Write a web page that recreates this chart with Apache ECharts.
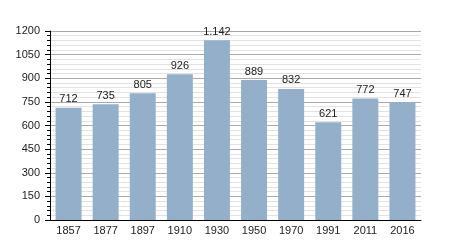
<!DOCTYPE html>
<html><head><meta charset="utf-8">
<script src="https://cdn.jsdelivr.net/npm/echarts@6/dist/echarts.min.js"></script>
<style>html,body{margin:0;padding:0;background:#fff}#c{width:450px;height:250px}</style>
</head><body><div id="c"></div>
<script>
const years = ['1857','1877','1897','1910','1930','1950','1970','1991','2011','2016'];
const population = [712,735,805,926,1142,889,832,621,772,747];
const yTicks = [0,150,300,450,600,750,900,1050,1200];

const chart = echarts.init(document.getElementById('c'), null, {renderer:'canvas'});
chart.setOption({
  animation:false,
  grid:{left:50,right:29,top:31,bottom:30,containLabel:false},
  xAxis:{type:'category',data:years,
    axisLine:{lineStyle:{color:'#000',width:1}},
    axisTick:{show:false},
    axisLabel:{color:'#222',fontSize:11,fontFamily:'Liberation Sans, Arial, sans-serif',margin:5}},
  yAxis:{type:'value',min:yTicks[0],max:yTicks[yTicks.length-1],interval:150,
    axisLine:{show:true,lineStyle:{color:'#000',width:1}},
    axisTick:{show:true,length:5,lineStyle:{color:'#000'}},
    minorTick:{show:true,splitNumber:5,length:3,lineStyle:{color:'#000'}},
    splitLine:{show:true,lineStyle:{color:'#aaa',width:1}},
    minorSplitLine:{show:true,lineStyle:{color:'#e2e2e2',width:1}},
    axisLabel:{color:'#222',fontSize:11,fontFamily:'Liberation Sans, Arial, sans-serif',margin:10,
      formatter:v=>String(v)}},
  series:[{type:'bar',data:population,barCategoryGap:'30%',
    itemStyle:{color:'#93afc9'},
    label:{show:true,position:'top',distance:3,color:'#222',fontSize:11,fontFamily:'Liberation Sans, Arial, sans-serif',
      formatter:p=>p.value>=1000?Math.floor(p.value/1000)+'.'+String(p.value%1000).padStart(3,'0'):String(p.value)}}]
});
</script></body></html>
